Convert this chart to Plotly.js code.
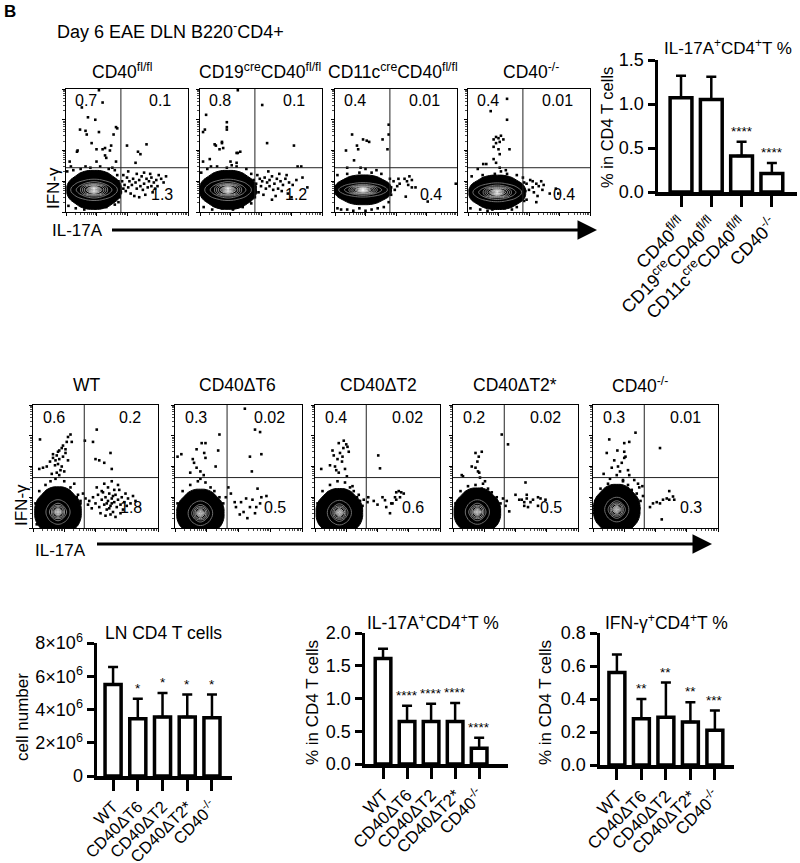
<!DOCTYPE html>
<html><head><meta charset="utf-8">
<script src="https://cdn.plot.ly/plotly-3.0.1.min.js"></script>
<style>html,body{margin:0;padding:0;background:#fff}#chart{width:800px;height:863px}</style>
</head><body><div id="chart"></div>
<script>
// ---------------- DATA ----------------
// Top flow row (Day 6 EAE DLN B220-CD4+)
const topFlowTitles = ['CD40<sup>fl/fl</sup>', 'CD19<sup>cre</sup>CD40<sup>fl/fl</sup>', 'CD11c<sup>cre</sup>CD40<sup>fl/fl</sup>', 'CD40<sup>-/-</sup>'];
const topQuadUL = ['0.7', '0.8', '0.4', '0.4'];
const topQuadUR = ['0.1', '0.1', '0.01', '0.01'];
const topQuadLR = ['1.3', '1.2', '0.4', '0.4'];

const top1X = [30,13,18,24,11.5,17,27,41,21,25,32,37,36,9.5,39,33,3,41,25,32,27,16,42,30,9, 50,66,57,61,59, 47,50,52,55,57,60,62,64,66,68,70,72,74,76,78,80,48,51,54,58,61,63,67,70,73,49,53,56,60,65,71,58,64,69,82,75,46,47,51, 44,43,44,42,40,35,28,20,12,6,1,2,8,15,24,33,40,43,45,38,16,4];
const top1Y = [89,85,77,75,67,63,65,69,56,51,52,54,50,50,63,44,41,41,41,46,99,66,68,51,49, 54,55,40,47,49, 30,28,25,27,24,26,29,23,27,25,28,24,26,30,27,24,22,20,22,19,21,18,20,21,19,17,15,13,12,14,16,31,32,31,29,21,25,19,33, 20,25,12,30,34,35,37,36,35,34,33,5,3,2,3,4,6,8,16,36,37,37];
const top2X = [5,2.5,4,22,22,22,12,18,19,16,30,31,30,25,2.5,8,31,18,13,33, 51,55,77,80,83, 47,49,51,53,55,57,59,61,63,66,68,70,73,76,79,50,54,57,60,64,67,72,75,62,48,52,56,65,71,59,46,84,88, 45,44,45,42,38,30,22,14,6,1,3,10,18,27,35,42,46,26,9];
const top2Y = [79,65,67,73,69,67,55,57,52,51,48,48,40,41,41,43,99,56,54,49, 87,56,54,37,37, 30,27,25,28,24,26,29,23,27,25,22,27,24,22,26,21,19,21,18,19,17,15,12,13,16,14,33,31,30,10,23,28,20, 20,26,12,31,35,37,36,37,35,32,4,2,3,2,4,7,16,38,37];
const top3X = [14,18,19,23,26,28,9,15.6,39,44,44,43,21,25,10,34, 52,53,57,59,60,61,63,66,63,58,76,99,51,48,49, 2,10,20,30,40,44,46,45,38,30,20,10,2,46,35,5,15,25];
const top3Y = [63,54,51,59,58,57,50,42,59,71,63,51,36,35,36,34, 27,23,27,25,22,29,26,20,20,12.5,8.5,23,21,25,18, 3,2,3,2,4,8,20,27,31,32,32,31,30,14,3,2,1,1];
const top4X = [32,18.6,32,21,23,25,27,23,26,29,21,25,34,26,12.5,15,23,26,27,21,31,8, 48,50,53,54,56,58,57,60,61,53,67,72,74,48,56,51,62, 2,10,20,30,40,46,47,46,40,32,22,12,3,45,16,36];
const top4Y = [92,82,75,59,61,60,62,56,57,59,53,51,51,47,39,39,40,36,33,43,34,35, 23,18,20,16,23,21,13,25,18,25,15,19,15,10,8,26,22, 3,2,2,3,4,9,17,24,30,31,31,30,29,28,1,2];
// dense population (centre, spread) in panel units
const topBlobCx = [23, 23, 23, 24];
const topBlobCy = [18, 18, 18, 16];
const topBlackRx = [12, 12.5, 12.5, 12.5];
const topBlackRy = [8.5, 8.5, 6.5, 7.5];
const topRingRx = [11.5, 11.5, 12, 12];
const topRingRy = [5.2, 5.2, 3.5, 4.6];

// Middle flow row
const midFlowTitles = ['WT', 'CD40ΔT6', 'CD40ΔT2', 'CD40ΔT2*', 'CD40<sup>-/-</sup>'];
const midQuadUL = ['0.6', '0.3', '0.4', '0.2', '0.3'];
const midQuadUR = ['0.2', '0.02', '0.02', '0.02', '0.01'];
const midQuadLR = ['1.8', '0.5', '0.6', '0.5', '0.3'];

const mid1X = [5.6,30,28,27,23,21,20,26,19,16,21,24,13.6,17.6,11,5,8,23,19,21,26,31,16,20,24,18,22,15,25,28, 51,48,41.5,50,53,57,62,63, 45,48,50,52,53,55,56,57,58,59,60,61,62,63,64,65,66,67,68,69,70,71,72,73,74,75,76,78,80,82,54,58,62,66,70,51,57,63,60,68,47,55,65,59,61,63,64,35,38,40,42,44, 2,3,5,10,30,36,37,35,28,12,3,25,18,14,33,38];
const mid1Y = [72,76,74,70,65,63,62,64,59,57,56,58,54,51,50,48,49,50,45,43,61,70,60,52,67,55,47,44,46,55, 80,70,71,56,55,53,61,48, 22,25,20,27,17,23,29,19,25,15,22,28,18,24,13,21,27,17,23,31,19,25,15,21,28,18,24,20,26,22,12,10,11,9,12,33,36,38,33,35,16,30,31,20,16,20,26,25,22,28,24,19, 20,10,30,35,33,27,15,5,1,1,3,38,40,38,36,20];
const mid2X = [5,14,21,24,17,23,24,15,32,35,34,17,20,12,22.6,20,2, 55,63,67,59,68,60.5, 52,56,59,61,65,67,68,72,48,51,54,57,63,44,47,42,64, 2,3,6,12,28,35,37,34,26,12,24,18,31,38,40];
const mid2Y = [60,56,69,69,64,61,57,53,50,76,63,49,46,45,43,40,58, 97,80,78,58,60,46, 21,24,17,23,32,20,25,26,17,11,13,8,12,28,21,33,17, 20,8,30,35,33,25,14,5,1,1,37,38,30,20,25];
const mid3X = [16,12,15,20,22.7,25,26,19,14,18,21.6,24,5,30,25.5,19,22,17,27,23, 50.6,52, 42.6,42,54,56,57,60,61,64,65,67,68,69,71,65,62,33.6,36,39,47,50, 2,3,6,12,28,35,37,34,26,12,24,18,31,38];
const mid3Y = [50,51,59,61,65,68,66,69,63,56,54,48,48,34,42,45,58,47,62,71, 59,48.5, 25,21,25,22.6,17,12,20,25,29,30,25,29,28,23,20,25,22,23,22,19, 20,8,30,35,33,27,14,5,1,1,37,38,30,18];
const mid4X = [39,18,20.6,23,19.5,15,18,20,21,7,8,21.6,25.6,18,23, 44, 50,58,53,55,57,59,62,64,68,70,74,43,42,45,57,60,68,59, 2,3,6,12,28,35,37,34,26,12,24,31,38,40];
const mid4Y = [76,61,58,62,54,50,49,46,45,43,42,41,38,35,32, 68, 27,37,23,23,21,24,21,23,25,24,23,22,18,13.5,18,17,18,27, 20,8,30,34,32,25,14,5,1,1,36,29,20,24];
const mid5X = [13,19.5,11,25,29,34,25,26,25,23,20,15,21.6,19,13.6,8.5,29,24,33,36,37,39.5,28,17, 53.6, 45.6,48,51,53.6,56,59,61,61,64,65,55, 2,3,6,12,28,35,37,34,26,12,24,31,38,40];
const mid5Y = [72,63,61,69,70,77.5,62,58,57,53,50,49,46,43,40,44,43,39,39,36,33,34,47,55, 65, 17,20,21,20,23,24,23,30,25.6,23,7, 22,10,32,36,35,28,16,6,2,2,38,31,22,26];
const midBlobCx = [20, 20, 19.5, 19.5, 19];
const midBlobCy = [13, 12, 12.5, 13, 15];
const midBlackRx = [10, 10, 10, 10, 10];
const midBlackRy = [11, 10.5, 10.5, 10.5, 11];
const midRingRx = [5.8, 5.8, 5.8, 5.8, 5.8];
const midRingRy = [6, 6, 6, 6, 6];

// shared density shape of the dense population (rows = y, cols = x)
const gridSteps = [-2, -1.5, -1, -0.5, 0, 0.5, 1, 1.5, 2];
const densityGrid = [
  [0,0,0,0,0,0,0,0,0],
  [0,0,0.3,0.7,0.9,0.7,0.3,0,0],
  [0,0.3,1,1.6,2,1.6,1,0.3,0],
  [0,0.7,1.6,4,5,4,1.6,0.7,0],
  [0,0.9,2,5,10,5,2,0.9,0],
  [0,0.7,1.6,4,5,4,1.6,0.7,0],
  [0,0.3,1,1.6,2,1.6,1,0.3,0],
  [0,0,0.3,0.7,0.9,0.7,0.3,0,0],
  [0,0,0,0,0,0,0,0,0]
];

// Bar charts
const topBarCats = ['CD40<sup>fl/fl</sup>', 'CD19<sup>cre</sup>CD40<sup>fl/fl</sup>', 'CD11c<sup>cre</sup>CD40<sup>fl/fl</sup>', 'CD40<sup>-/-</sup>'];
const topBarMean = [1.07, 1.05, 0.41, 0.21];
const topBarSD = [0.25, 0.26, 0.16, 0.12];
const topBarSig = ['', '', '****', '****'];

const mutCats = ['WT', 'CD40ΔT6', 'CD40ΔT2', 'CD40ΔT2*', 'CD40<sup>-/-</sup>'];
const cellMean = [5.5e6, 3.45e6, 3.55e6, 3.55e6, 3.5e6];
const cellSD = [1.05e6, 1.2e6, 1.45e6, 1.35e6, 1.4e6];
const cellSig = ['', '*', '*', '*', '*'];
const cellTickVals = [0, 2e6, 4e6, 6e6, 8e6];
const cellTickText = ['0', '2×10<sup>6</sup>', '4×10<sup>6</sup>', '6×10<sup>6</sup>', '8×10<sup>6</sup>'];

const il17Mean = [1.61, 0.65, 0.65, 0.65, 0.24];
const il17SD = [0.15, 0.24, 0.27, 0.28, 0.16];
const il17Sig = ['', '****', '****', '****', '****'];

const ifngMean = [0.56, 0.28, 0.29, 0.26, 0.21];
const ifngSD = [0.11, 0.12, 0.21, 0.12, 0.12];
const ifngSig = ['', '**', '**', '**', '***'];

// ---------------- BUILD ----------------
const W = 800, H = 863;
const FONT = 'Arial, "Liberation Sans", Helvetica, sans-serif';
const traces = [];
const layout = {
  width: W, height: H, margin: {l: 0, r: 0, t: 0, b: 0}, showlegend: false,
  paper_bgcolor: '#fff', plot_bgcolor: 'rgba(0,0,0,0)', hovermode: false,
  font: {family: FONT, color: '#000', size: 16},
  annotations: [], shapes: []
};
let axCount = 0;
function makeAxes(x0, x1, y0, y1, xo, yo) {
  axCount++;
  const s = axCount === 1 ? '' : String(axCount);
  layout['xaxis' + s] = Object.assign({domain: [x0 / W, x1 / W], anchor: 'y' + s}, xo);
  layout['yaxis' + s] = Object.assign({domain: [1 - y1 / H, 1 - y0 / H], anchor: 'x' + s}, yo);
  return {x: 'x' + s, y: 'y' + s};
}
function note(x, y, text, size, extra) {
  layout.annotations.push(Object.assign({xref: 'paper', yref: 'paper', x: x / W, y: 1 - y / H, text: text,
    xanchor: 'center', yanchor: 'middle', showarrow: false, font: {size: size, family: FONT, color: '#000'}}, extra || {}));
}

// log-like decade ticks for flow axes
const decades = [0, 25, 50, 75];
const minorTicks = [];
decades.forEach(d => { for (let k = 2; k <= 9; k++) minorTicks.push(d + 25 * Math.log10(k)); });
function flowAxis() {
  return {range: [0, 100], showline: true, mirror: true, linecolor: '#000', linewidth: 1,
    ticks: 'outside', ticklen: 3, tickwidth: 1, tickcolor: '#000', tickmode: 'array', tickvals: [0, 25, 50, 75, 100],
    showticklabels: false, showgrid: false, zeroline: false, fixedrange: true,
    minor: {tickmode: 'array', tickvals: minorTicks, ticks: 'outside', ticklen: 2, tickwidth: 0.7, tickcolor: '#000', showgrid: false}};
}
function flowPanel(box, dx, dy, cx, cy, brx, bry, rrx, rry, ringSize, gate, ul, ur, lr, numY) {
  const ax = makeAxes(box[0], box[1], box[2], box[3], flowAxis(), flowAxis());
  traces.push({type: 'contour', x: gridSteps.map(u => cx + u * brx), y: gridSteps.map(v => cy + v * bry), z: densityGrid,
    xaxis: ax.x, yaxis: ax.y, contours: {type: 'constraint', operation: '<', value: 0.25},
    fillcolor: '#000', line: {color: '#000', width: 1, smoothing: 1.3}, showscale: false, hoverinfo: 'skip'});
  traces.push({type: 'contour', x: gridSteps.map(u => cx + u * rrx), y: gridSteps.map(v => cy + v * rry), z: densityGrid,
    xaxis: ax.x, yaxis: ax.y, contours: {coloring: 'lines', start: 0.6, end: 9.8, size: ringSize},
    colorscale: [[0, '#7a7a7a'], [1, '#ffffff']], zmin: 0, zmax: 10,
    line: {width: 0.9, smoothing: 1.3}, showscale: false, hoverinfo: 'skip'});
  traces.push({type: 'scatter', mode: 'markers', x: dx, y: dy, xaxis: ax.x, yaxis: ax.y,
    marker: {size: 2.6, color: '#000', symbol: 'square'}, hoverinfo: 'skip'});
  layout.shapes.push({type: 'line', xref: ax.x, yref: ax.y, x0: gate[0], x1: gate[0], y0: 0, y1: 100, line: {color: '#222', width: 1}});
  layout.shapes.push({type: 'line', xref: ax.x, yref: ax.y, x0: 0, x1: 100, y0: gate[1], y1: gate[1], line: {color: '#222', width: 1}});
  const f = {size: 16, family: FONT, color: '#000'};
  layout.annotations.push({xref: ax.x, yref: ax.y, x: 6, y: numY[0], text: ul, showarrow: false, xanchor: 'left', yanchor: 'middle', font: f});
  layout.annotations.push({xref: ax.x, yref: ax.y, x: 88, y: numY[0], text: ur, showarrow: false, xanchor: 'right', yanchor: 'middle', font: f});
  layout.annotations.push({xref: ax.x, yref: ax.y, x: 89, y: numY[1], text: lr, showarrow: false, xanchor: 'right', yanchor: 'middle', font: f});
}

// top flow row
const topDX = [top1X, top2X, top3X, top4X], topDY = [top1Y, top2Y, top3Y, top4Y];
const topBoxes = [[66, 188, 89, 212], [200, 322, 89, 212], [335, 457, 89, 212], [468, 590, 89, 212]];
const topTitleX = [122, 260, 393, 531];
topBoxes.forEach((b, i) => {
  flowPanel(b, topDX[i], topDY[i], topBlobCx[i], topBlobCy[i], topBlackRx[i], topBlackRy[i], topRingRx[i], topRingRy[i], 0.8,
    [45, 36], topQuadUL[i], topQuadUR[i], topQuadLR[i], [91, 14]);
  note(topTitleX[i], 71, topFlowTitles[i], 17.5);
});
// middle flow row
const midDX = [mid1X, mid2X, mid3X, mid4X, mid5X], midDY = [mid1Y, mid2Y, mid3Y, mid4Y, mid5Y];
const midBoxes = [[33, 158, 405, 528], [175, 302, 405, 528], [315, 440, 405, 528], [453, 578, 405, 528], [593, 718, 405, 528]];
const midTitleX = [87, 237, 378, 515, 640];
midBoxes.forEach((b, i) => {
  flowPanel(b, midDX[i], midDY[i], midBlobCx[i], midBlobCy[i], midBlackRx[i], midBlackRy[i], midRingRx[i], midRingRy[i], 1.0,
    [41, 41], midQuadUL[i], midQuadUR[i], midQuadLR[i], [90, 17]);
  note(midTitleX[i], 385, midFlowTitles[i], 17.5);
});

// labels + arrows
note(10, 11, '<b>B</b>', 17);
note(55, 30, 'Day 6 EAE DLN B220<sup>-</sup>CD4+', 18, {xanchor: 'left'});
note(54, 188, 'IFN-γ', 17, {textangle: -90});
note(50, 231, 'IL-17A', 17, {xanchor: 'left'});
note(21, 505, 'IFN-γ', 17, {textangle: -90});
note(33, 550, 'IL-17A', 17, {xanchor: 'left'});
layout.annotations.push({xref: 'paper', yref: 'paper', x: 597 / W, y: 1 - 230 / H, ax: -487, ay: 0, text: ' ',
  showarrow: true, arrowhead: 2, arrowsize: 1.3, arrowwidth: 3, arrowcolor: '#000', standoff: 0, font: {size: 2}});
layout.annotations.push({xref: 'paper', yref: 'paper', x: 712 / W, y: 1 - 544 / H, ax: -617, ay: 0, text: ' ',
  showarrow: true, arrowhead: 2, arrowsize: 1.3, arrowwidth: 3, arrowcolor: '#000', standoff: 0, font: {size: 2}});

// bar charts
function barPanel(box, xr, cats, means, sds, sigs, yr, tv, tt, barW, catSize) {
  const ax = makeAxes(box[0], box[1], box[2], box[3],
    {type: 'category', range: xr, showline: true, linewidth: 3.5, linecolor: '#000', ticks: 'outside', ticklen: 11, tickwidth: 3,
     tickcolor: '#000', tickangle: -45, tickfont: {size: catSize, family: FONT}, showgrid: false, zeroline: false, fixedrange: true},
    {range: yr, showline: true, linewidth: 3.5, linecolor: '#000', ticks: 'outside', ticklen: 7, tickwidth: 3, tickcolor: '#000',
     tickmode: 'array', tickvals: tv, ticktext: tt, tickfont: {size: 18, family: FONT}, showgrid: false, zeroline: false, fixedrange: true});
  traces.push({type: 'bar', x: cats, y: means, xaxis: ax.x, yaxis: ax.y, width: barW,
    marker: {color: '#fff', line: {color: '#000', width: 3.5}},
    error_y: {type: 'data', symmetric: false, array: sds, arrayminus: sds.map(() => 0), color: '#000', thickness: 2.5, width: 5},
    hoverinfo: 'skip'});
  sigs.forEach((s, i) => {
    if (s) layout.annotations.push({xref: ax.x, yref: ax.y, x: i, y: means[i] + sds[i], text: s, showarrow: false,
      yanchor: 'bottom', yshift: 1, font: {size: 13.5, family: FONT, color: '#000'}});
  });
}
barPanel([658, 797, 60, 192], [-0.76, 3.83], topBarCats, topBarMean, topBarSD, topBarSig, [0, 1.5],
  [0, 0.5, 1, 1.5], ['0.0', '0.5', '1.0', '1.5'], 0.72, 18);
note(728, 47, 'IL-17A<sup>+</sup>CD4<sup>+</sup>T %', 17);
note(607, 128, '% in CD4 T cells', 16.5, {textangle: -90});

barPanel([97, 232, 643, 776], [-0.65, 4.81], mutCats, cellMean, cellSD, cellSig, [0, 8e6], cellTickVals, cellTickText, 0.65, 16.5);
note(163, 633, 'LN CD4 T cells', 17.5);
note(22, 717, 'cell number', 17, {textangle: -90});

barPanel([365, 508, 633, 764], [-0.75, 5.2], mutCats, il17Mean, il17SD, il17Sig, [0, 2],
  [0, 0.5, 1, 1.5, 2], ['0.0', '0.5', '1.0', '1.5', '2.0'], 0.65, 17);
note(433, 622, 'IL-17A<sup>+</sup>CD4<sup>+</sup>T %', 17.5);
note(312, 703, '% in CD4 T cells', 17, {textangle: -90});

barPanel([600, 734, 633, 765], [-0.69, 4.78], mutCats, ifngMean, ifngSD, ifngSig, [0, 0.8],
  [0, 0.2, 0.4, 0.6, 0.8], ['0.0', '0.2', '0.4', '0.6', '0.8'], 0.65, 17);
note(666, 622, 'IFN-γ<sup>+</sup>CD4<sup>+</sup>T %', 17.5);
note(545, 703, '% in CD4 T cells', 17, {textangle: -90});

Plotly.newPlot('chart', traces, layout, {staticPlot: true, displayModeBar: false});
</script>
</body></html>
